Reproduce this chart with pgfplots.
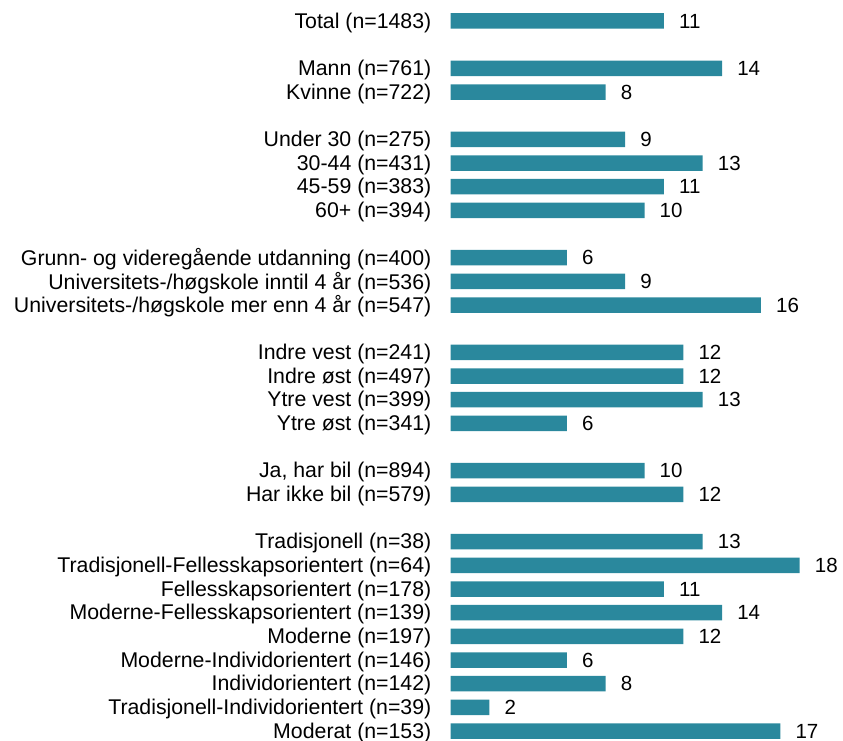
\documentclass[border=0pt]{standalone}
\usepackage{pgfplots}
\pgfplotsset{compat=1.18}
\usepackage{fontspec}
\setmainfont{Liberation Sans}
\definecolor{barteal}{HTML}{2A889D}
\begin{document}
\begin{tikzpicture}[x=1pt,y=1pt]
\path[use as bounding box] (0,0) rectangle (843,741);
\begin{axis}[
  at={(450.5pt,0pt)}, anchor=south west,
  scale only axis, width=392.5pt, height=741pt,
  xmin=0, xmax=20.23,
  ymin=-0.887, ymax=30.42, y dir=reverse,
  axis line style={draw=none},
  tick style={draw=none},
  xtick=\empty,
  ytick={0,2,3,5,6,7,8,10,11,12,14,15,16,17,19,20,22,23,24,25,26,27,28,29,30},
  yticklabels={
    {Total (n=1483)},
    {Mann (n=761)},
    {Kvinne (n=722)},
    {Under 30 (n=275)},
    {30-44 (n=431)},
    {45-59 (n=383)},
    {60+ (n=394)},
    {Grunn- og videregående utdanning (n=400)},
    {Universitets-/høgskole inntil 4 år (n=536)},
    {Universitets-/høgskole mer enn 4 år (n=547)},
    {Indre vest (n=241)},
    {Indre øst (n=497)},
    {Ytre vest (n=399)},
    {Ytre øst (n=341)},
    {Ja, har bil (n=894)},
    {Har ikke bil (n=579)},
    {Tradisjonell (n=38)},
    {Tradisjonell-Fellesskapsorientert (n=64)},
    {Fellesskapsorientert (n=178)},
    {Moderne-Fellesskapsorientert (n=139)},
    {Moderne (n=197)},
    {Moderne-Individorientert (n=146)},
    {Individorientert (n=142)},
    {Tradisjonell-Individorientert (n=39)},
    {Moderat (n=153)}},
  yticklabel style={font=\fontsize{21.3}{24}\selectfont, inner sep=0pt, xshift=-19pt, yshift=-1.5pt, anchor=east},
  clip=false,
  point meta=x,
  nodes near coords,
  nodes near coords style={font=\fontsize{20.5}{24}\selectfont, anchor=west, inner sep=0pt, xshift=15pt,
    /pgf/number format/assume math mode=true},
]
\addplot[xbar, bar width=15.5pt, fill=barteal, draw=none] coordinates {
  (11,0) (14,2) (8,3) (9,5) (13,6) (11,7) (10,8)
  (6,10) (9,11) (16,12)
  (12,14) (12,15) (13,16) (6,17)
  (10,19) (12,20)
  (13,22) (18,23) (11,24) (14,25) (12,26) (6,27) (8,28) (2,29) (17,30)
};
\end{axis}
\end{tikzpicture}
\end{document}
